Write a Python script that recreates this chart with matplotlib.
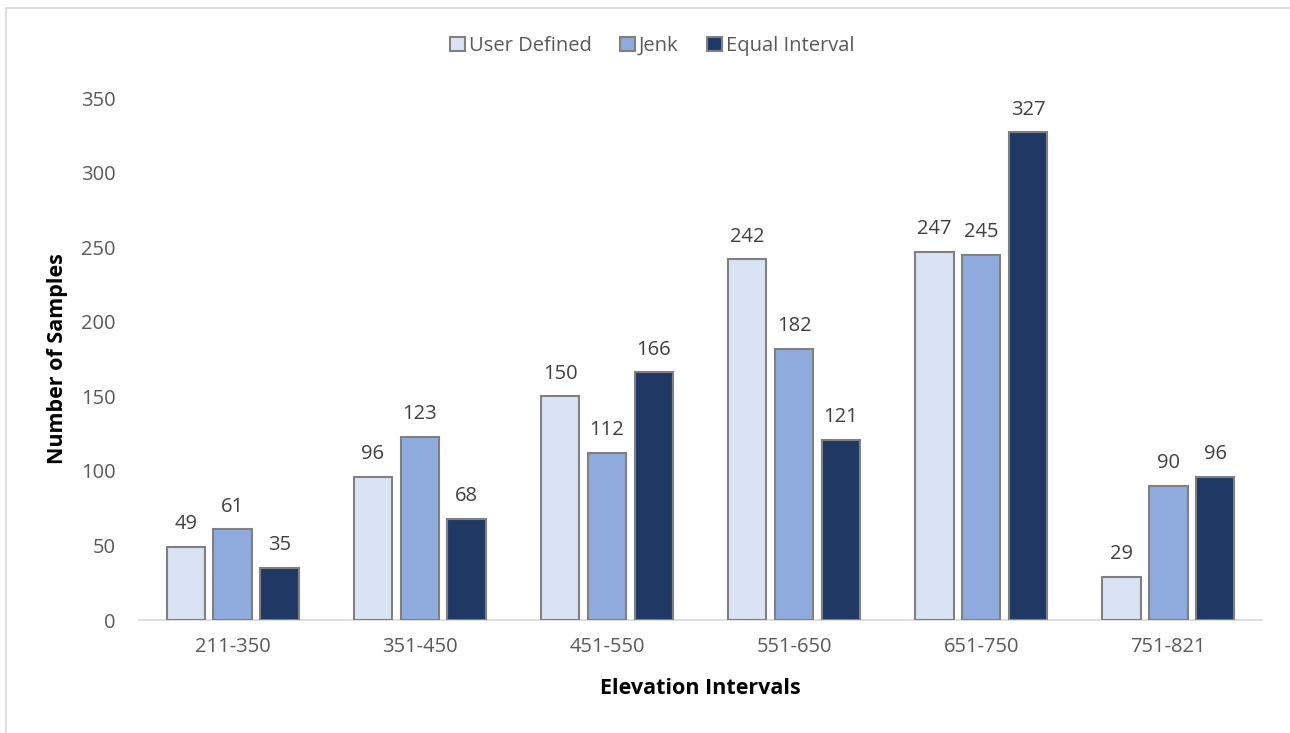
import matplotlib.pyplot as plt
import numpy as np
from matplotlib.lines import Line2D

categories = ["211-350", "351-450", "451-550", "551-650", "651-750", "751-821"]
user_defined = [49, 96, 150, 242, 247, 29]
jenk = [61, 123, 112, 182, 245, 90]
equal_interval = [35, 68, 166, 121, 327, 96]

series = ["User Defined", "Jenk", "Equal Interval"]
colors = ["#DAE3F3", "#8FAADC", "#203864"]

plt.rcParams['font.family'] = ['Open Sans', 'DejaVu Sans']

W, H = 1290, 733
fig = plt.figure(figsize=(12.9, 7.33), dpi=100)
ax = fig.add_axes([139/W, 1 - 620/H, (1262 - 139)/W, (620 - 98)/H])

x = np.arange(len(categories))
width = 0.205
step = 0.25
for i, (name, vals) in enumerate(zip(series, [user_defined, jenk, equal_interval])):
    bars = ax.bar(x + (i - 1) * step, vals, width, color=colors[i],
                  edgecolor="#808080", linewidth=1.5, label=name, zorder=3)
    ax.bar_label(bars, padding=9, fontsize=14.5, color="#404040")

ax.set_xlim(-0.5, len(categories) - 0.5)
ax.set_ylim(0, 350)
ax.set_yticks(range(0, 351, 50))
ax.set_xticks(x)
ax.set_xticklabels(categories)
ax.tick_params(axis='both', length=0, labelsize=14.5, colors="#595959")
ax.tick_params(axis='x', pad=12)
ax.tick_params(axis='y', pad=17)

for s in ["top", "right", "left"]:
    ax.spines[s].set_visible(False)
ax.spines["bottom"].set_color("#D9D9D9")
ax.spines["bottom"].set_linewidth(1.2)

# axis titles placed in figure pixels
fig.text(700/W, 1 - 688/H, "Elevation Intervals", fontsize=15.5, fontweight="bold",
         color="#000000", ha="center", va="center")
fig.text(57/W, 1 - 359/H, "Number of Samples", fontsize=15.5, fontweight="bold",
         color="#000000", ha="center", va="center", rotation=90)

ax.legend(loc="center", bbox_to_anchor=(652/W, 1 - 46/H), bbox_transform=fig.transFigure,
          ncol=3, frameon=False, fontsize=14.5, labelcolor="#595959",
          handlelength=0.75, handleheight=0.75, handletextpad=0.2, columnspacing=1.4)

# chart border (top and left visible)
fig.add_artist(Line2D([6/W, 1.0], [1 - 8/H, 1 - 8/H], color="#D9D9D9", lw=1.2))
fig.add_artist(Line2D([6/W, 6/W], [0.0, 1 - 8/H], color="#D9D9D9", lw=1.2))

plt.savefig("out.png", dpi=100)
